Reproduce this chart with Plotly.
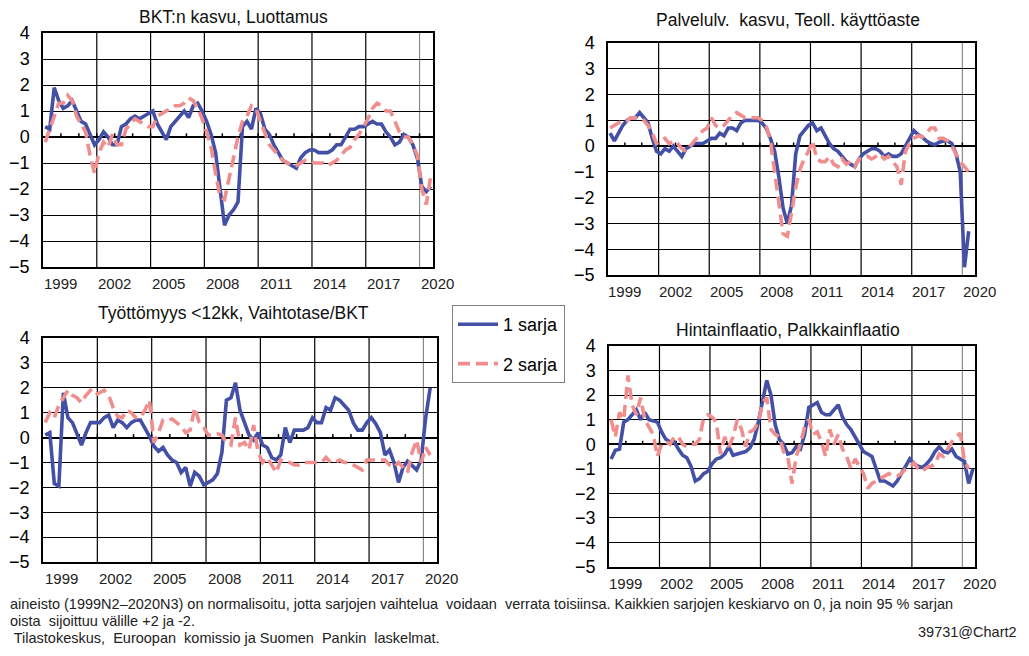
import plotly.graph_objects as go

# ---------------- data (quarterly, 87 category slots) ----------------
n_slots = 87
x_idx = list(range(n_slots))

year_labels = ["1999", "2002", "2005", "2008", "2011", "2014", "2017", "2020"]
label_pos = [3.5 + 12 * k for k in range(len(year_labels))]
grid_pos = [11.5 + 12 * k for k in range(7)]
year_tick_pos = [3.5 + 4 * k for k in range(21)]

# Panel 1: BKT:n kasvu (1 sarja), Luottamus (2 sarja)
bkt_kasvu = [0.4, 0.3, 1.9, 1.4, 1.1, 1.2, 1.4, 1.0, 0.6, 0.5,
             0.1, -0.3, -0.1, 0.2, 0.0, -0.3, -0.3, 0.4, 0.5, 0.7,
             0.8, 0.7, 0.8, 0.9, 1.0, 0.5, 0.2, -0.1, 0.4, 0.6,
             0.8, 1.0, 0.75, 1.2, 1.3, 1.0, 0.6, 0.1, -0.6, -1.9,
             -3.4, -3.0, -2.8, -2.5, 0.4, 0.6, 0.3, 1.1, 0.9, 0.3,
             0.1, -0.3, -0.6, -0.9, -1.0, -1.1, -1.2, -0.8, -0.6, -0.5,
             -0.5, -0.6, -0.6, -0.6, -0.5, -0.3, -0.3, 0.0, 0.3, 0.3,
             0.4, 0.4, 0.5, 0.6, 0.5, 0.5, 0.2, 0.0, -0.3, -0.2,
             0.1, 0.0, -0.3, -0.8, -1.9, -2.1, -1.9]
luottamus = [-0.2, 0.3, 0.8, 1.3, 1.3, 1.6, 1.4, 0.8, 0.5, 0.2,
             -0.7, -1.4, -0.6, -0.2, -0.4, 0.1, -0.3, -0.3, 0.3, 0.5,
             0.7, 0.6, 0.5, 0.4, 0.4, 0.8, 0.9, 1.0, 1.1, 1.2,
             1.2, 1.3, 1.5, 1.4, 1.1, 0.7, 0.2, -0.4, -1.4, -2.3,
             -2.4, -1.6, -0.8, 0.0, 0.6, 0.8, 1.2, 1.1, 0.6, 0.1,
             -0.3, -0.5, -0.7, -0.9, -1.0, -1.1, -1.1, -1.0, -0.9, -0.9,
             -1.0, -1.0, -1.0, -1.1, -1.0, -0.9, -0.7, -0.5, -0.4, -0.1,
             0.1, 0.4, 0.7, 1.1, 1.3, 1.2, 1.0, 1.0, 0.6, 0.2,
             0.0, 0.0, -0.3, -0.7, -2.0, -2.6, -1.5]

# Panel 2: Palvelulv. kasvu (1 sarja), Teoll. käyttöaste (2 sarja)
palvelu_kasvu = [0.5, 0.2, 0.5, 0.8, 1.0, 1.1, 1.1, 1.3, 1.1, 0.9,
                 0.3, -0.2, -0.3, -0.1, -0.2, 0.0, -0.2, -0.4, -0.1, 0.0,
                 0.1, 0.1, 0.1, 0.2, 0.3, 0.3, 0.5, 0.4, 0.7, 0.7,
                 0.6, 0.9, 1.0, 1.0, 1.0, 1.0, 0.9, 0.7, 0.3, -0.2,
                 -1.2, -2.4, -3.0, -2.3, -0.3, 0.4, 0.6, 0.8, 0.9, 0.6,
                 0.7, 0.4, 0.1, -0.1, -0.2, -0.4, -0.6, -0.7, -0.8, -0.5,
                 -0.3, -0.2, -0.1, -0.1, -0.2, -0.4, -0.3, -0.4, -0.4, -0.3,
                 0.0, 0.3, 0.6, 0.45, 0.35, 0.2, 0.1, 0.05, 0.15, 0.2,
                 0.2, 0.1, -0.3, -1.0, -4.7, -3.3, None]
kayttoaste = [0.7, 0.8, 0.9, 1.0, 1.0, 1.1, 1.1, 1.1, 1.0, 0.8,
              0.5, 0.1, 0.2, 0.3, 0.1, 0.2, 0.1, -0.1, -0.2, 0.0,
              0.2, 0.4, 0.6, 0.7, 1.1, 0.8, 0.7, 0.8, 1.0, 1.2,
              1.3, 1.2, 1.1, 1.1, 1.1, 1.1, 1.0, 0.8, 0.2, -0.9,
              -2.2, -3.4, -3.5, -2.6, -1.6, -0.9, -0.5, -0.2, 0.2, -0.5,
              -0.6, -0.6, -0.4, -0.7, -0.8, -0.5, -0.7, -0.6, -0.8, -0.5,
              -0.5, -0.4, -0.5, -0.4, -0.3, -0.5, -0.4, -0.6, -0.8, -1.5,
              -0.2, 0.1, 0.3, 0.4, 0.35, 0.5, 0.7, 0.7, 0.3, 0.3,
              0.2, 0.0, -0.3, -0.6, -0.8, -1.0, None]

# Panel 3: Työttömyys <12kk (1 sarja), Vaihtotase/BKT (2 sarja)
tyottomyys = [0.1, 0.2, -1.85, -1.95, 1.8, 0.8, 0.6, 0.15, -0.3, 0.2,
              0.6, 0.6, 0.6, 0.8, 0.9, 0.4, 0.7, 0.6, 0.4, 0.6,
              0.7, 0.7, 0.4, 0.05, -0.35, -0.55, -0.4, -0.7, -0.9, -1.0,
              -1.4, -1.2, -1.95, -1.4, -1.55, -1.9, -1.8, -1.7, -1.45, -0.6,
              1.5, 1.6, 2.2, 1.1, 0.6, 0.1, -0.1, 0.2, -0.3, -0.4,
              -0.8, -0.9, -0.7, 0.4, -0.2, 0.3, 0.3, 0.3, 0.4, 0.8,
              0.6, 0.6, 1.2, 1.1, 1.6, 1.5, 1.3, 1.1, 0.6, 0.3,
              0.3, 0.6, 0.8, 0.55, 0.2, -0.7, -0.5, -1.0, -1.8, -1.2,
              -0.95, -1.15, -1.3, -0.9, 0.8, 2.0, None]
vaihtotase = [0.6, 1.0, 0.8, 1.3, 1.6, 1.9, 1.7, 1.6, 1.4, 1.7,
              1.9, 1.7, 1.8, 1.9, 1.7, 1.2, 0.85, 0.8, 1.1, 1.0,
              0.8, 0.8, 1.1, 1.5, -0.2, 0.2, 0.7, 0.7, 0.75, 0.6,
              0.45, 0.2, 0.3, 1.2, 0.6, 0.4, 0.1, 0.1, 0.15, 0.1,
              -0.2, -0.3, 0.8, -0.3, -0.2, -0.5, 0.5, -0.6, -1.0, -0.8,
              -1.1, -1.4, -0.9, -1.0, -1.0, -1.1, -1.1, -1.0, -1.0, -1.0,
              -1.0, -1.0, -0.8, -1.0, -1.0, -0.9, -1.0, -1.0, -1.1, -1.2,
              -1.3, -0.9, -0.9, -0.9, -0.9, -0.9, -1.1, -1.2, -1.0, -1.2,
              -1.4, -0.6, -0.1, -1.0, -0.4, -0.7, None]

# Panel 4: Hintainflaatio (1 sarja), Palkkainflaatio (2 sarja)
hintainflaatio = [-0.6, -0.25, -0.2, 0.9, 1.0, 1.2, 1.4, 1.0, 1.3, 1.0,
                  0.95, 0.9, 0.5, 0.2, 0.1, 0.1, -0.2, -0.45, -0.55, -0.9,
                  -1.5, -1.4, -1.2, -1.1, -0.8, -0.6, -0.55, -0.4, -0.1, -0.45,
                  -0.4, -0.35, -0.3, -0.15, 0.2, 0.9, 1.7, 2.6, 2.0, 0.8,
                  0.2, 0.0, -0.4, -0.35, -0.1, -0.2, 0.4, 1.5, 1.6, 1.7,
                  1.3, 1.2, 1.2, 1.4, 1.6, 1.1, 0.8, 0.6, 0.3, 0.0,
                  -0.3, -0.4, -0.5, -1.0, -1.5, -1.5, -1.6, -1.7, -1.5, -1.2,
                  -0.9, -0.6, -0.8, -0.9, -0.95, -0.8, -0.6, -0.3, -0.1, -0.3,
                  -0.35, -0.2, -0.5, -0.6, -0.7, -1.6, -1.0]
palkkainflaatio = [1.0, 0.3, 1.3, 1.0, 2.8, 1.6, 1.2, 1.9, 1.0, 0.7,
                   0.4, -0.5, 0.0, 0.1, 0.0, 0.3, 0.3, 0.0, -0.1, 0.0,
                   0.0, 0.2, 1.1, 1.2, 1.1, 0.9, -0.4, 0.3, -0.1, 0.3,
                   1.0, 0.6, -0.1, 0.5, 0.6, 0.9, 1.7, 1.9, 0.6, 0.4,
                   0.3, -0.3, -0.5, -1.6, -0.5, 0.0, 0.7, 1.0, 0.4, 0.5,
                   0.1, -0.5, 0.6, 0.0, 0.4, -0.2, -0.5, -1.0, -0.6, -0.9,
                   -1.2, -1.8, -1.6, -1.5, -1.4, -1.3, -1.2, -1.3, -1.3, -1.2,
                   -1.0, -0.9, -0.75, -1.0, -1.1, -0.95, -0.9, -0.8, -0.4, -0.5,
                   -0.2, 0.1, 0.3, 0.45, -0.7, -1.0, None]

titles = ["BKT:n kasvu, Luottamus",
          "Palvelulv.\u00a0 kasvu, Teoll. käyttöaste",
          "Työttömyys <12kk, Vaihtotase/BKT",
          "Hintainflaatio, Palkkainflaatio"]
series_names = ["1 sarja", "2 sarja"]

panels = [(bkt_kasvu, luottamus), (palvelu_kasvu, kayttoaste),
          (tyottomyys, vaihtotase), (hintainflaatio, palkkainflaatio)]

# ---------------- layout geometry ----------------
# The page body has an 8 px margin, so the figure is made 16 px smaller than the
# window and every screen position (measured on the reference) is shifted by 8 px.
OFF = 8
W, H = 1029 - 2 * OFF, 656 - 2 * OFF


def px2x(px):
    return (px - OFF) / W


def py2y(py):
    return 1 - (py - OFF) / H


boxes = [(43, 433, 33, 267), (608, 975, 43, 275), (43, 437, 338, 562), (609, 975, 346, 567)]
title_pos = [(233, 17), (788, 20), (233, 313), (788, 330)]

BLUE = "#4350A6"
PINK = "#F08E8E"
FONT = "Liberation Sans, Arial, sans-serif"

fig = go.Figure()
layout = dict(width=W, height=H, margin=dict(l=0, r=0, t=0, b=0, pad=0, autoexpand=False),
              template="none",
              paper_bgcolor="white", plot_bgcolor="white",
              font=dict(family=FONT, color="black"),
              showlegend=True)
shapes = []
annotations = []

for p, (s1, s2) in enumerate(panels):
    k = "" if p == 0 else str(p + 1)
    xa, ya = "x" + k, "y" + k
    fig.add_trace(go.Scatter(x=x_idx, y=s1, mode="lines", name=series_names[0],
                             line=dict(color=BLUE, width=3.6), xaxis=xa, yaxis=ya,
                             showlegend=(p == 0), legendgroup="s1"))
    fig.add_trace(go.Scatter(x=x_idx, y=s2, mode="lines", name=series_names[1],
                             line=dict(color=PINK, width=3.6, dash="12px,6px"),
                             xaxis=xa, yaxis=ya,
                             showlegend=(p == 0), legendgroup="s2"))
    x0, x1, y0, y1 = boxes[p]
    layout["xaxis" + k] = dict(
        domain=[px2x(x0), px2x(x1)], anchor=ya, range=[-0.5, n_slots - 0.5],
        showticklabels=False, showgrid=False, zeroline=False, ticks="",
        automargin=False,
        showline=True, mirror=True, linecolor="black", linewidth=1.5,
    )
    layout["yaxis" + k] = dict(
        domain=[py2y(y1), py2y(y0)], anchor=xa, range=[-5, 4],
        tickmode="array", tickvals=list(range(-5, 5)),
        showgrid=True, gridcolor="black", gridwidth=1,
        zeroline=True, zerolinecolor="black", zerolinewidth=2,
        ticks="", ticklabelstandoff=8, tickfont=dict(size=18, color="black"),
        automargin=False,
        showline=True, mirror=True, linecolor="black", linewidth=1.5,
    )
    # vertical gridlines every third year (last one lighter)
    for gi, g in enumerate(grid_pos):
        col = "#8a8a8a" if gi == len(grid_pos) - 1 else "black"
        shapes.append(dict(type="line", xref=xa, yref=ya, x0=g, x1=g, y0=-5, y1=4,
                           line=dict(color=col, width=1.2), layer="below"))
    # small yearly ticks on the zero line
    for t in year_tick_pos:
        shapes.append(dict(type="line", xref=xa, yref=ya, x0=t, x1=t, y0=0, y1=0.14,
                           line=dict(color="black", width=1.5), layer="below"))
    # year labels under the panel (paper coords so the last one may overhang the frame)
    for lp, lt in zip(label_pos, year_labels):
        lx = x0 + (lp + 0.5) / n_slots * (x1 - x0)
        annotations.append(dict(text=lt, xref="paper", yref="paper", x=px2x(lx), y=py2y(y1 + 16),
                                xanchor="center", yanchor="middle", showarrow=False,
                                font=dict(size=15, color="#222")))
    tx, ty = title_pos[p]
    annotations.append(dict(text=titles[p], xref="paper", yref="paper",
                            x=px2x(tx), y=py2y(ty), xanchor="center", yanchor="middle",
                            showarrow=False, borderpad=0, font=dict(size=17.5, color="#111")))

NOTE_FONT = dict(family="Liberation Sans Narrow, Arial Narrow, Liberation Sans, sans-serif",
                 size=14.5, color="#222")
notes = [
    ("aineisto (1999N2–2020N3) on normalisoitu, jotta sarjojen vaihtelua  voidaan  verrata toisiinsa. "
     "Kaikkien sarjojen keskiarvo on 0, ja noin 95 % sarjan", 8, 604, "left"),
    ("oista  sijoittuu välille +2 ja -2.", 8, 621, "left"),
    (" Tilastokeskus,  Euroopan  komissio ja Suomen  Pankin  laskelmat.", 8, 638, "left"),
    ("39731@Chart2", 1019, 632, "right"),
]
for txt, nx, ny, anc in notes:
    annotations.append(dict(text=txt, xref="paper", yref="paper", x=px2x(nx), y=py2y(ny),
                            xanchor=anc, yanchor="middle", showarrow=False, font=NOTE_FONT))

layout["shapes"] = shapes
layout["annotations"] = annotations
layout["legend"] = dict(x=px2x(452), y=py2y(305), xanchor="left", yanchor="top",
                        bgcolor="white", bordercolor="#808080", borderwidth=1,
                        font=dict(size=18, color="black"), traceorder="grouped",
                        tracegroupgap=13, itemwidth=40)
fig.update_layout(**layout)
fig.write_html("out.html")
